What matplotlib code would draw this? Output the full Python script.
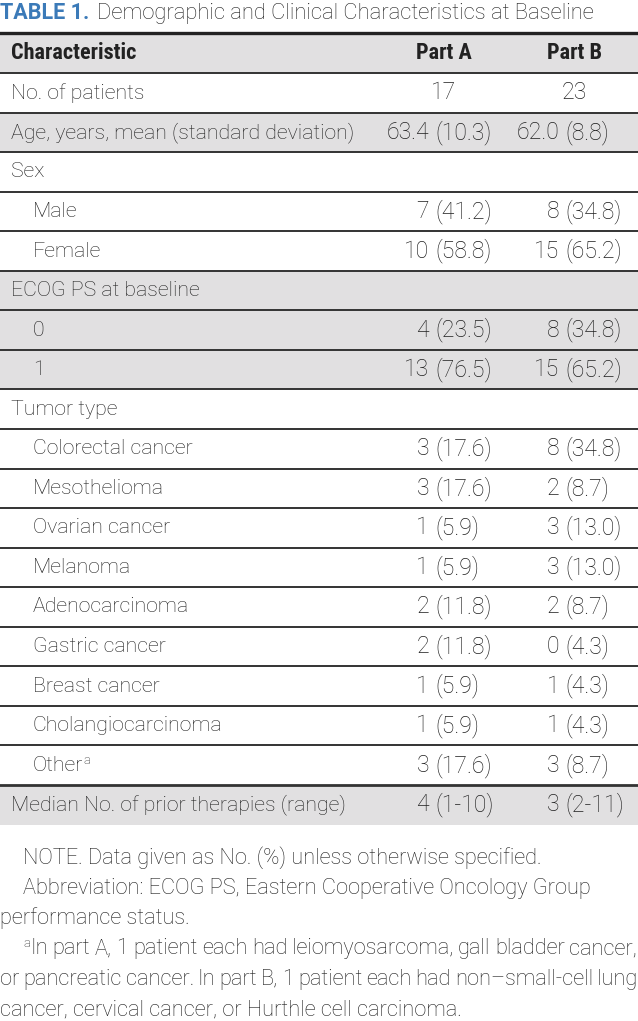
import matplotlib
matplotlib.use("Agg")
import matplotlib.pyplot as plt

BODY = ["Roboto", "DejaVu Sans"]
COND = ["Roboto Condensed", "DejaVu Sans"]

title_bold = "TABLE 1."
title_rest = "Demographic and Clinical Characteristics at Baseline"
col_headers = ["Characteristic", "Part A", "Part B"]
labels = ["No. of patients", "Age, years, mean (standard deviation)", "Sex", "Male", "Female",
          "ECOG PS at baseline", "0", "1", "Tumor type", "Colorectal cancer", "Mesothelioma",
          "Ovarian cancer", "Melanoma", "Adenocarcinoma", "Gastric cancer", "Breast cancer",
          "Cholangiocarcinoma", "Other", "Median No. of prior therapies (range)"]
label_sup = ["", "", "", "", "", "", "", "", "", "", "", "", "", "", "", "", "", "a", ""]
indent = [0, 0, 0, 1, 1, 0, 1, 1, 0, 1, 1, 1, 1, 1, 1, 1, 1, 1, 0]
part_a = ["17", "63.4 (10.3)", "", "7 (41.2)", "10 (58.8)", "", "4 (23.5)", "13 (76.5)", "",
          "3 (17.6)", "3 (17.6)", "1 (5.9)", "1 (5.9)", "2 (11.8)", "2 (11.8)", "1 (5.9)",
          "1 (5.9)", "3 (17.6)", "4 (1-10)"]
part_b = ["23", "62.0 (8.8)", "", "8 (34.8)", "15 (65.2)", "", "8 (34.8)", "15 (65.2)", "",
          "8 (34.8)", "2 (8.7)", "3 (13.0)", "3 (13.0)", "2 (8.7)", "0 (4.3)", "1 (4.3)",
          "1 (4.3)", "3 (8.7)", "3 (2-11)"]
shaded = [False, True, False, False, False, True, True, True, False, False, False, False,
          False, False, False, False, False, False, True]
# (left x, superscript, text, justify)
footnotes = [
    (23, "", "NOTE. Data given as No. (%) unless otherwise specified.", False),
    (23, "", "Abbreviation: ECOG PS, Eastern Cooperative Oncology Group", False),
    (0, "", "performance status.", False),
    (23, "a", "In part A, 1 patient each had leiomyosarcoma, gall bladder cancer,", True),
    (0, "", "or pancreatic cancer. In part B, 1 patient each had non\u2013small-cell lung", True),
    (0, "", "cancer, cervical cancer, or Hurthle cell carcinoma.", False),
]

W, H = 638, 1021
fig = plt.figure(figsize=(W / 100, H / 100), dpi=100)
ax = fig.add_axes([0, 0, 1, 1])
ax.set_xlim(0, W)
ax.set_ylim(H, 0)
ax.axis("off")
renderer = fig.canvas.get_renderer()

TXT = "#1f1f1f"
HDR = "#222222"
SHADE = "#e1e0e1"
BLUE = "#3b7ab8"
FS = 15.3
FW = "light"
base = dict(fontsize=FS, fontweight=FW, color=TXT, family=BODY, va="center")
vkw = dict(base, fontsize=16.6)


def width_of(t):
    bb = t.get_window_extent(renderer=renderer)
    return bb.x1 - bb.x0


def put(x, y, s, **kw):
    return ax.text(x, y, s, **kw)


def sup_text(x, y, sup, **kw):
    kw2 = dict(kw)
    kw2["fontsize"] = kw["fontsize"] * 0.6
    return ax.text(x, y - 5, sup, **kw2)


# title
put(0, 13, title_bold, fontsize=15.5, fontweight="bold", color=BLUE, family=BODY,
    va="center")
put(97, 13, title_rest, **dict(base, fontsize=15.8))

top = 33.5
rh = 39.55
colA, colB = 444, 574.5   # column centres
paren_off = 9            # "(" sits this far left of the column centre
gap = 6.0

# header band
ax.axhspan(top, top + rh, color=SHADE, lw=0, zorder=0)
ax.axhline(top, color=HDR, lw=2.4, zorder=2)
hkw = dict(fontsize=16, fontweight="bold", color=HDR, family=COND, va="center")
put(11, top + rh / 2, col_headers[0], ha="left", **hkw)
put(colA, top + rh / 2, col_headers[1], ha="center", **hkw)
put(colB, top + rh / 2, col_headers[2], ha="center", **hkw)


def put_value(xc, y, s):
    if not s:
        return
    if " (" in s:
        n, rest = s.split(" (", 1)
        px = xc - paren_off
        put(px - gap, y, n, ha="right", **vkw)
        put(px, y, "(" + rest, ha="left", **vkw)
    else:
        put(xc, y, s, ha="center", **vkw)


for i, lab in enumerate(labels):
    y0 = top + rh * (i + 1)
    yc = y0 + rh / 2
    if shaded[i]:
        ax.axhspan(y0, y0 + rh, color=SHADE, lw=0, zorder=0)
    ax.axhline(y0, color="#333333", lw=1.4 if i != len(labels) - 1 else 2.0, zorder=2)
    tl = put(11 + 22 * indent[i], yc, lab, ha="left", **base)
    if label_sup[i]:
        sup_text(11 + 22 * indent[i] + width_of(tl) + 0.5, yc, label_sup[i], ha="left",
                 **base)
    put_value(colA, yc, part_a[i])
    put_value(colB, yc, part_b[i])

fy = 858
lh = 30.3
right_edge = 637
fkw = dict(base, fontsize=15.7)
for k, (x, sup, line, just) in enumerate(footnotes):
    y = fy + lh * k
    if sup:
        ts = sup_text(x, y, sup, ha="left", **fkw)
        x = x + width_of(ts) + 0.5
    if not just:
        put(x, y, line, ha="left", **fkw)
        continue
    words = line.split(" ")
    tmp = [put(0, -100, w, ha="left", **fkw) for w in words]
    ws = [width_of(tt) for tt in tmp]
    for tt in tmp:
        tt.remove()
    g = (right_edge - x - sum(ws)) / (len(words) - 1)
    cx = x
    for w, wd in zip(words, ws):
        put(cx, y, w, ha="left", **fkw)
        cx += wd + g

fig.savefig("out.png", dpi=100)
